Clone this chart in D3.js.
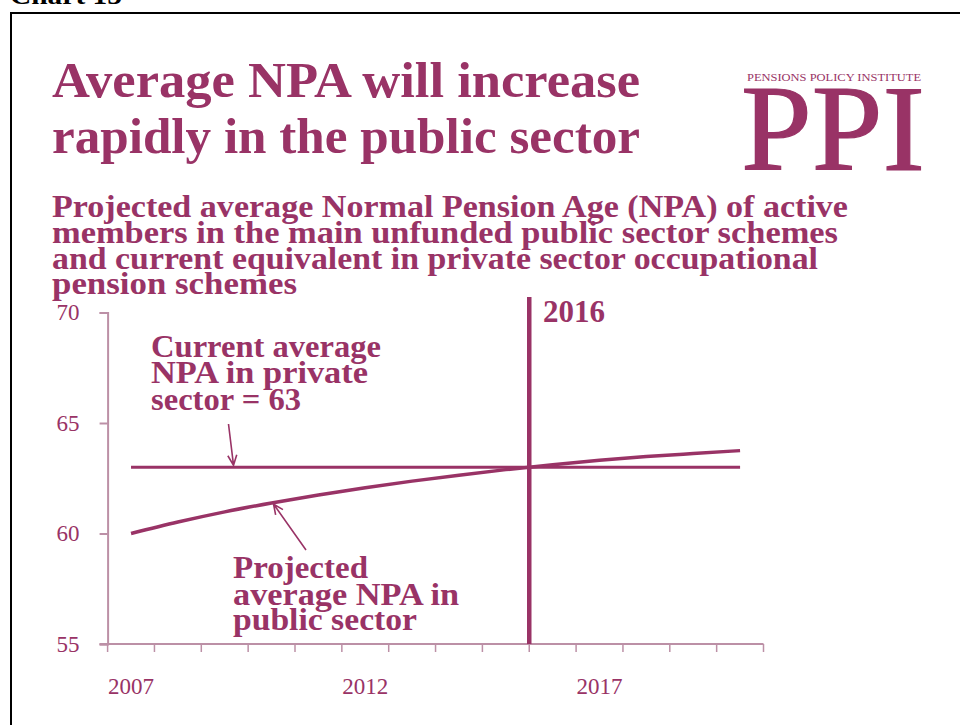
<!DOCTYPE html>
<html>
<head>
<meta charset="utf-8">
<script src="https://cdn.jsdelivr.net/npm/d3@7"></script>
<style>
  html, body { margin: 0; padding: 0; background: #fff; }
  svg { display: block; }
  text { font-family: "Palatino Linotype", "Book Antiqua", Palatino, "Liberation Serif", serif; }
</style>
</head>
<body>
<div id="chart"></div>
<script>
// Projected average Normal Pension Age, public vs private sector
const years = ["2007","2008","2009","2010","2011","2012","2013","2014","2015","2016","2017","2018","2019","2020"];
const publicNPA = [60.0, 60.52, 60.98, 61.38, 61.74, 62.07, 62.37, 62.64, 62.89, 63.11, 63.31, 63.48, 63.62, 63.75];
const privateNPA = [63, 63, 63, 63, 63, 63, 63, 63, 63, 63, 63, 63, 63, 63];
const yTicks = [55, 60, 65, 70];
const xTickLabels = ["2007", "2012", "2017"];
const markerYear = "2016";

const titleLines = ["Average NPA will increase", "rapidly in the public sector"];
const subtitleLines = [
  "Projected average Normal Pension Age (NPA) of active",
  "members in the main unfunded public sector schemes",
  "and current equivalent in private sector occupational",
  "pension schemes"
];
const privateNote = ["Current average", "NPA in private", "sector = 63"];
const publicNote = ["Projected", "average NPA in", "public sector"];

const plum = "#993366";
const axisColor = "#BC90A6";

const W = 960, H = 725;
const svg = d3.select("#chart").append("svg").attr("width", W).attr("height", H);

// squeeze or stretch a text line to a given width
function fit(sel, w) {
  sel.attr("textLength", w).attr("lengthAdjust", "spacingAndGlyphs");
}

// page frame and chart number
svg.append("rect").attr("x", 11).attr("y", 13).attr("width", 980).attr("height", 740)
  .attr("fill", "none").attr("stroke", "#000").attr("stroke-width", 2);
svg.append("text").attr("x", 10).attr("y", 4).attr("font-size", 26).attr("font-weight", "bold")
  .attr("fill", "#000").text("Chart 15").call(fit, 112);

// headline
const titleY = [97, 153];
const titleW = [588, 588];
titleLines.forEach((t, i) => {
  svg.append("text").attr("x", 52).attr("y", titleY[i]).attr("font-size", 51)
    .attr("font-weight", "bold").attr("fill", plum).text(t).call(fit, titleW[i]);
});

// PPI logo
svg.append("text").attr("x", 747).attr("y", 80.5).attr("font-size", 11)
  .attr("fill", plum).text("PENSIONS POLICY INSTITUTE").call(fit, 174);
svg.append("text").attr("x", 741).attr("y", 170).attr("font-size", 122)
  .attr("fill", plum).attr("stroke", plum).attr("stroke-width", 1.2)
  .text("PPI").call(fit, 184);

// subtitle
const subY = [217, 243, 269, 294];
const subW = [796, 786, 766, 245];
subtitleLines.forEach((t, i) => {
  svg.append("text").attr("x", 52).attr("y", subY[i]).attr("font-size", 31)
    .attr("font-weight", "bold").attr("fill", plum).text(t).call(fit, subW[i]);
});

// scales
const x = d3.scaleBand().domain(years).range([107.6, 763.5]);
const y = d3.scaleLinear().domain([55, 70]).range([644, 312.5]);
const cx = d => x(d) + x.bandwidth() / 2;

// y axis
const yAxis = svg.append("g").attr("transform", `translate(${x.range()[0]},0)`)
  .call(d3.axisLeft(y).tickValues(yTicks).tickSize(8).tickPadding(20).tickFormat(d3.format("d")));
yAxis.select(".domain").attr("stroke", axisColor).attr("stroke-width", 2);
yAxis.selectAll(".tick line").attr("stroke", axisColor).attr("stroke-width", 2);
yAxis.selectAll(".tick text").attr("fill", plum).attr("font-size", 23)
  .style("font-family", "\"Palatino Linotype\", \"Book Antiqua\", Palatino, \"Liberation Serif\", serif");

// x axis: ticks on category boundaries, labels centred in categories
const xg = svg.append("g");
xg.append("line").attr("x1", x.range()[0] - 8).attr("x2", x.range()[1])
  .attr("y1", y(55)).attr("y2", y(55)).attr("stroke", axisColor).attr("stroke-width", 2);
const bounds = years.map(d => x(d)).concat([x.range()[1]]);
xg.selectAll("line.xt").data(bounds).join("line").attr("class", "xt")
  .attr("x1", d => d).attr("x2", d => d).attr("y1", y(55)).attr("y2", y(55) + 8)
  .attr("stroke", axisColor).attr("stroke-width", 1.5);
xg.selectAll("text.xl").data(xTickLabels).join("text").attr("class", "xl")
  .attr("x", d => cx(d)).attr("y", 694).attr("text-anchor", "middle")
  .attr("font-size", 23).attr("fill", plum).text(d => d);

// series
const line = d3.line().x((d, i) => cx(years[i])).y(d => y(d)).curve(d3.curveMonotoneX);
svg.append("path").datum(privateNPA).attr("d", line).attr("fill", "none")
  .attr("stroke", plum).attr("stroke-width", 3);
svg.append("path").datum(publicNPA).attr("d", line).attr("fill", "none")
  .attr("stroke", plum).attr("stroke-width", 3.5);

// 2016 marker
const mx = x(markerYear);
svg.append("line").attr("x1", mx).attr("x2", mx).attr("y1", 297).attr("y2", y(55))
  .attr("stroke", plum).attr("stroke-width", 4.5);
svg.append("text").attr("x", 543).attr("y", 321.5).attr("font-size", 31)
  .attr("font-weight", "bold").attr("fill", plum).text(markerYear).call(fit, 62);

// annotations
const noteY1 = [356.5, 383, 410];
const noteW1 = [230, 217, 150];
privateNote.forEach((t, i) => {
  svg.append("text").attr("x", 151).attr("y", noteY1[i]).attr("font-size", 31)
    .attr("font-weight", "bold").attr("fill", plum).text(t).call(fit, noteW1[i]);
});
const noteY2 = [578, 605, 630];
const noteW2 = [135, 226, 184];
publicNote.forEach((t, i) => {
  svg.append("text").attr("x", 233).attr("y", noteY2[i]).attr("font-size", 31)
    .attr("font-weight", "bold").attr("fill", plum).text(t).call(fit, noteW2[i]);
});

// arrows with open heads
function arrow(x1, y1, x2, y2) {
  const a = Math.atan2(y2 - y1, x2 - x1), L = 11, s = 0.42;
  const p1 = [x2 - L * Math.cos(a - s), y2 - L * Math.sin(a - s)];
  const p2 = [x2 - L * Math.cos(a + s), y2 - L * Math.sin(a + s)];
  svg.append("path")
    .attr("d", `M${x1},${y1}L${x2},${y2}M${p1[0]},${p1[1]}L${x2},${y2}L${p2[0]},${p2[1]}`)
    .attr("fill", "none").attr("stroke", plum).attr("stroke-width", 1.6);
}
arrow(228.5, 424, 233.5, y(privateNPA[2]) - 2);
arrow(306, 550, 273.5, 504);
</script>
</body>
</html>
